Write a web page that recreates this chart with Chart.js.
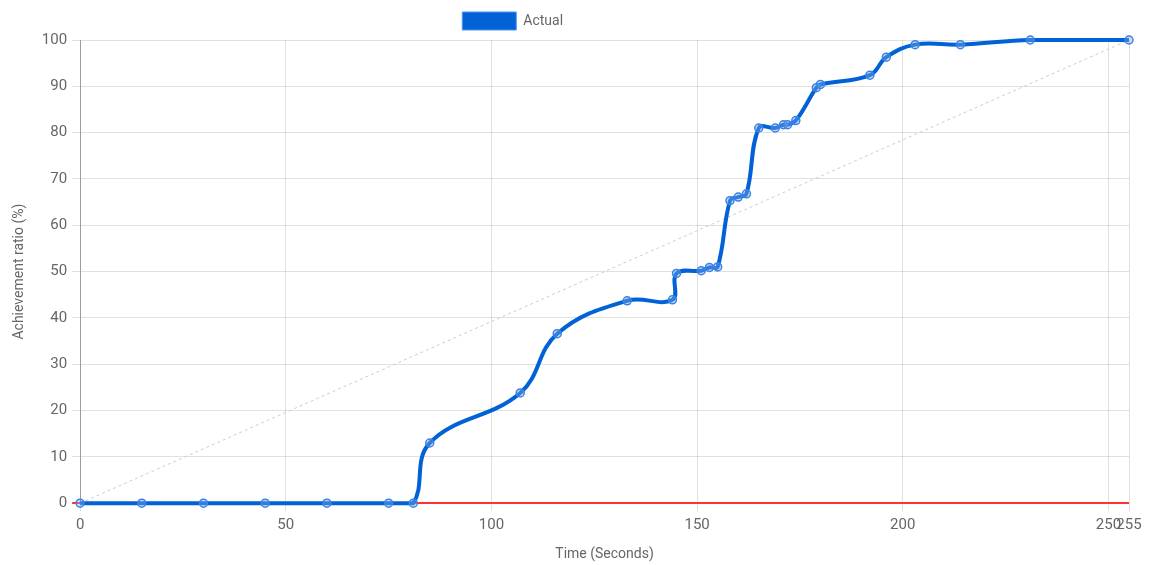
<!DOCTYPE html>
<html>
<head>
<meta charset="utf-8">
<script src="https://cdn.jsdelivr.net/npm/chart.js@4/dist/chart.umd.min.js"></script>
<style>
  html, body { margin: 0; padding: 0; background: #fff; }
  #wrap { width: 1149px; height: 565px; }
</style>
</head>
<body>
<div id="wrap"><canvas id="myChart"></canvas></div>
<script>
const timeValues = [0, 15, 30, 45, 60, 75, 81, 85, 107, 116, 133, 144, 145, 151, 153, 155, 158, 160, 162, 165, 169, 171, 172, 174, 179, 180, 192, 196, 203, 214, 231, 255]
const ratioValues = [0, 0, 0, 0, 0, 0, 0, 13, 23.8, 36.6, 43.7, 43.9, 49.6, 50.2, 50.9, 51, 65.3, 66.1, 66.8, 81, 81, 81.7, 81.7, 82.6, 89.7, 90.4, 92.4, 96.3, 99, 99, 100, 100]
const targetTime = [0, 255]
const targetRatio = [0, 100]
const xTicks = [0, 50, 100, 150, 200, 250, 255]

const blue = 'rgb(0, 98, 214)'
const zeroRed = 'rgb(255, 50, 50)'
Chart.defaults.font.family = 'Roboto'
Chart.defaults.color = '#666'

const isZero = ctx => ctx.tick && ctx.tick.value === 0

const myChart = new Chart(
  document.getElementById("myChart"),
  {
    type: 'line',
    data: {
      datasets: [{
        label: 'Actual',
        data: timeValues.map((t, i) => ({x: t, y: ratioValues[i]})),
        borderColor: blue,
        backgroundColor: blue,
        borderWidth: 4,
        tension: 0.4,
        clip: false,
        pointRadius: 4,
        pointBorderWidth: 1.5,
        pointBorderColor: 'rgba(60, 130, 230, 1)',
        pointBackgroundColor: 'rgba(120, 170, 235, 0.4)',
        fill: false
      }, {
        label: 'Target',
        data: targetTime.map((t, i) => ({x: t, y: targetRatio[i]})),
        borderColor: 'rgba(200, 200, 200, 0.9)',
        borderWidth: 1,
        borderDash: [3, 3],
        pointRadius: 0,
        fill: false
      }],
    },
    options: {
      responsive: true,
      maintainAspectRatio: false,
      animation: false,
      layout: { padding: { right: 20, left: 7, top: 2, bottom: 0 } },
      scales: {
        x: {
          type: 'linear',
          min: 0,
          max: 255,
          afterBuildTicks: axis => { axis.ticks = xTicks.map(v => ({value: v})) },
          ticks: { autoSkip: false, maxRotation: 0, padding: 5, font: { size: 15 } },
          grid: { color: 'rgba(0,0,0,0.12)' },
          border: { display: false },
          title: { display: true, text: 'Time (Seconds)', padding: { top: 7, bottom: 2 }, font: { size: 14 } }
        },
        y: {
          min: 0,
          max: 100,
          ticks: { stepSize: 10, padding: 5, font: { size: 15 } },
          grid: {
            color: ctx => isZero(ctx) ? zeroRed : 'rgba(0,0,0,0.12)',
            lineWidth: ctx => isZero(ctx) ? 2 : 1
          },
          border: { color: 'rgba(0,0,0,0.3)' },
          title: { display: true, text: 'Achievement ratio (%)', padding: { top: 4, bottom: 9 }, font: { size: 14 } }
        }
      },
      plugins: {
        legend: {
          labels: {
            boxWidth: 54,
            boxHeight: 18,
            font: { size: 14 },
            // only "Actual" is shown; the target entry keeps its room but is drawn invisible
            generateLabels: chart => {
              const items = Chart.defaults.plugins.legend.labels.generateLabels(chart)
              items.forEach(item => {
                if (item.text === 'Actual') {
                  item.strokeStyle = 'rgba(80, 150, 235, 1)'
                  item.lineWidth = 1
                } else {
                  item.fillStyle = 'rgba(0,0,0,0)'
                  item.strokeStyle = 'rgba(0,0,0,0)'
                  item.fontColor = 'rgba(0,0,0,0)'
                  item.lineWidth = 0
                  item.lineDash = []
                }
              })
              return items
            }
          },
          onClick: () => {}
        },
        tooltip: { enabled: false }
      }
    }
  }
);
</script>
</body>
</html>
